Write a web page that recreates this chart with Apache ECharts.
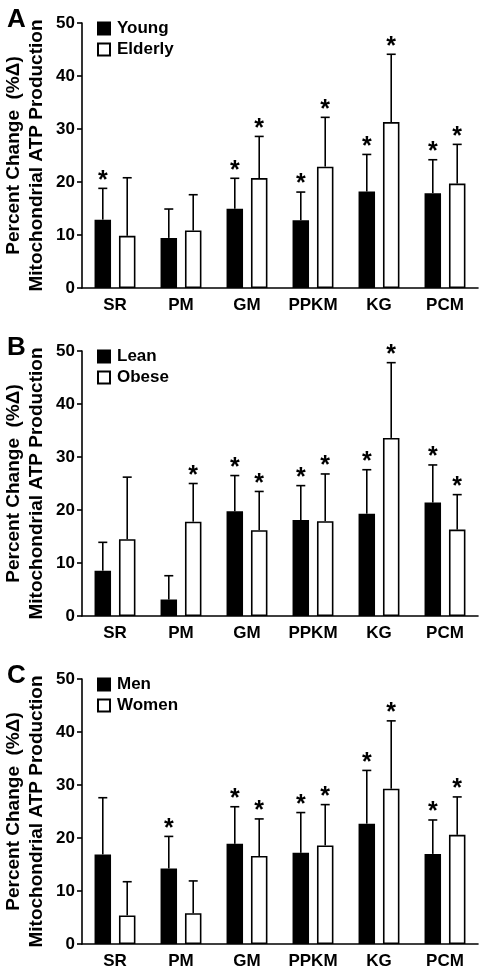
<!DOCTYPE html>
<html>
<head>
<meta charset="utf-8">
<script src="https://cdn.jsdelivr.net/npm/echarts@6/dist/echarts.min.js"></script>
<style>
html,body{margin:0;padding:0;background:#fff;}
#chart{width:482px;height:972px;}
</style>
</head>
<body>
<div id="chart"></div>
<script>
const categories = ['SR', 'PM', 'GM', 'PPKM', 'KG', 'PCM'];
const yTicks = [0, 10, 20, 30, 40, 50];
const panelLetters = ['A', 'B', 'C'];
const yTitle = 'Percent Change  (%\u0394)\nMitochondrial ATP Production';

// Panel A
const youngNames = ['Young', 'Elderly'];
const youngMean = [12.9, 9.45, 14.95, 12.8, 18.2, 17.9];
const youngErr = [5.9, 5.45, 5.75, 5.3, 7.0, 6.3];
const youngSig = [1, 0, 1, 1, 1, 1];
const elderlyMean = [9.85, 10.85, 20.75, 22.9, 31.3, 19.7];
const elderlyErr = [10.95, 6.75, 7.85, 9.3, 12.8, 7.4];
const elderlySig = [0, 0, 1, 1, 1, 1];

// Panel B
const leanNames = ['Lean', 'Obese'];
const leanMean = [8.55, 3.1, 19.75, 18.1, 19.3, 21.4];
const leanErr = [5.35, 4.5, 6.75, 6.5, 8.3, 7.1];
const leanSig = [0, 0, 1, 1, 1, 1];
const obeseMean = [14.5, 17.8, 16.2, 17.9, 33.6, 16.3];
const obeseErr = [11.7, 7.2, 7.3, 8.9, 14.2, 6.6];
const obeseSig = [0, 1, 1, 1, 1, 1];

// Panel C
const menNames = ['Men', 'Women'];
const menMean = [16.9, 14.25, 18.9, 17.2, 22.7, 17.0];
const menErr = [10.7, 6.05, 7.0, 7.6, 10.05, 6.4];
const menSig = [0, 1, 1, 1, 1, 1];
const womenMean = [5.4, 5.8, 16.6, 18.6, 29.3, 20.6];
const womenErr = [6.35, 6.1, 7.0, 7.7, 12.8, 7.15];
const womenSig = [0, 0, 1, 1, 1, 1];

const panels = [
  {names: youngNames, groups: [[youngMean, youngErr, youngSig], [elderlyMean, elderlyErr, elderlySig]]},
  {names: leanNames, groups: [[leanMean, leanErr, leanSig], [obeseMean, obeseErr, obeseSig]]},
  {names: menNames, groups: [[menMean, menErr, menSig], [womenMean, womenErr, womenSig]]}
];

const FONT = '"Liberation Sans", Arial, Helvetica, sans-serif';
const gridTops = [23, 351, 679];
const gridH = 265;
const BAR_W = 0.25, BAR_GAP = 0.48;
const OFF = (BAR_W + BAR_W * BAR_GAP) / 2;

const grids = [], xAxes = [], yAxes = [], series = [], legends = [], titles = [];

panels.forEach((p, pi) => {
  grids.push({left: 82, width: 396, top: gridTops[pi], height: gridH, containLabel: false, outerBoundsMode: 'none'});
  xAxes.push({
    type: 'category', gridIndex: pi, data: categories,
    axisLine: {lineStyle: {color: '#000', width: 1.6}},
    axisTick: {alignWithLabel: true, length: 5, lineStyle: {color: '#000', width: 1.6}},
    axisLabel: {color: '#000', fontWeight: 'bold', fontSize: 17, fontFamily: FONT, margin: 9}
  });
  yAxes.push({
    type: 'value', gridIndex: pi, min: yTicks[0], max: yTicks[yTicks.length - 1], interval: 10,
    name: yTitle, nameLocation: 'middle', nameRotate: 90, nameGap: 34, nameMoveOverlap: false,
    nameTextStyle: {color: '#000', fontWeight: 'bold', fontSize: 19, fontFamily: FONT, lineHeight: 23},
    axisLine: {show: true, lineStyle: {color: '#000', width: 1.6}},
    axisTick: {show: true, length: 5, lineStyle: {color: '#000', width: 1.6}},
    axisLabel: {color: '#000', fontWeight: 'bold', fontSize: 17, fontFamily: FONT, margin: 7},
    splitLine: {show: false}
  });
  titles.push({
    text: panelLetters[pi], left: 2, top: gridTops[pi] - 21,
    textStyle: {fontSize: 26, fontWeight: 'bold', fontFamily: FONT, color: '#000'}
  });
  legends.push({
    data: p.names, orient: 'vertical', left: 92, top: gridTops[pi] - 8,
    itemWidth: 12, itemHeight: 12, itemGap: 4, icon: 'rect',
    textStyle: {color: '#000', fontWeight: 'bold', fontSize: 17, fontFamily: FONT, padding: [0, 0, 0, 2]}
  });
  p.groups.forEach((g, gi) => {
    const fill = gi === 0 ? '#000' : '#fff';
    series.push({
      name: p.names[gi], type: 'bar', xAxisIndex: pi, yAxisIndex: pi,
      data: g[0], barWidth: (BAR_W * 100) + '%', barGap: (BAR_GAP * 100) + '%',
      itemStyle: {color: fill, borderColor: '#000', borderWidth: 1.6},
      emphasis: {disabled: true}, z: 2
    });
  });
  p.groups.forEach((g, gi) => {
    const sign = gi === 0 ? -1 : 1;
    series.push({
      type: 'custom', xAxisIndex: pi, yAxisIndex: pi, z: 3, silent: true,
      data: categories.map((c, i) => [i, g[0][i], g[1][i], g[2][i]]),
      renderItem: function (params, api) {
        const idx = api.value(0);
        const mean = api.value(1), err = api.value(2), sig = api.value(3);
        const band = api.size([1, 0])[0];
        const x = api.coord([idx, 0])[0] + sign * band * OFF;
        const yb = api.coord([idx, mean])[1];
        const yt = api.coord([idx, mean + err])[1];
        const st = {stroke: '#000', lineWidth: 1.6};
        const ch = [
          {type: 'line', shape: {x1: x, y1: yb, x2: x, y2: yt}, style: st},
          {type: 'line', shape: {x1: x - 4.5, y1: yt, x2: x + 4.5, y2: yt}, style: st}
        ];
        if (sig) {
          ch.push({type: 'text', style: {text: '*', x: x, y: yt + 5, textAlign: 'center', textVerticalAlign: 'bottom',
            fontSize: 25, fontWeight: 'bold', fontFamily: FONT, fill: '#000'}});
        }
        return {type: 'group', children: ch};
      }
    });
  });
});

const chart = echarts.init(document.getElementById('chart'), null, {renderer: 'canvas'});
chart.setOption({
  animation: false,
  backgroundColor: '#fff',
  title: titles,
  legend: legends,
  grid: grids,
  xAxis: xAxes,
  yAxis: yAxes,
  series: series
});
</script>
</body>
</html>
